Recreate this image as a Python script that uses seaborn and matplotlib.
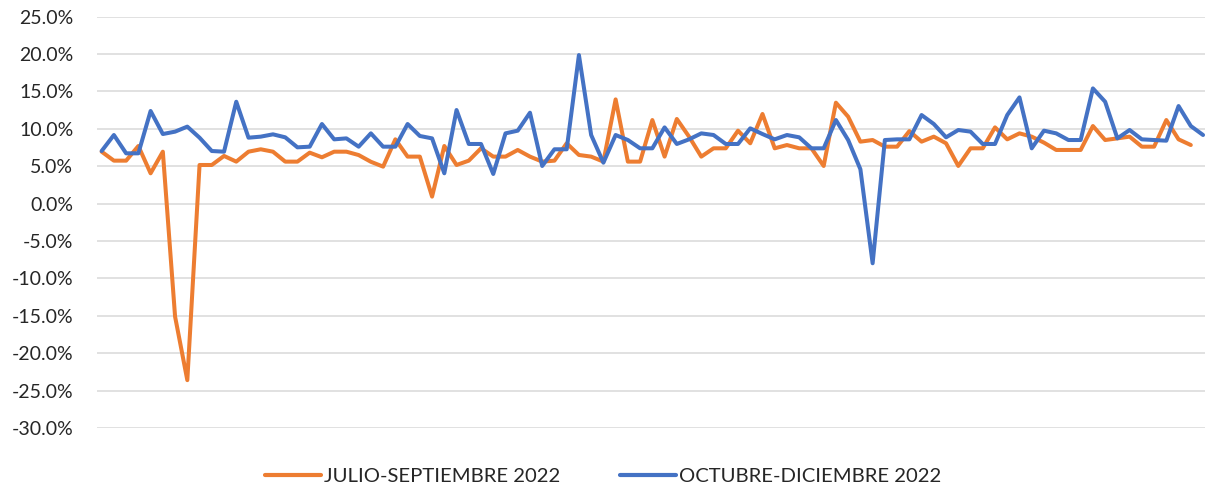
import numpy as np
import pandas as pd
import matplotlib
matplotlib.use("Agg")
import matplotlib.pyplot as plt
from matplotlib.ticker import PercentFormatter
from matplotlib.lines import Line2D
import seaborn as sns

# ---- data (percent) ----
series_names = ["JULIO-SEPTIEMBRE 2022", "OCTUBRE-DICIEMBRE 2022"]
jul_sep = [6.95, 5.75, 5.75, 7.71, 4.06, 6.95, -15.1, -23.6, 5.17, 5.17,
           6.38, 5.62, 6.95, 7.27, 6.95, 5.62, 5.62, 6.82, 6.2, 6.95,
           6.95, 6.5, 5.6, 4.95, 8.6, 6.29, 6.29, 0.94, 7.71, 5.17,
           5.75, 7.4, 6.29, 6.29, 7.18, 6.29, 5.62, 5.75, 8.07, 6.51,
           6.29, 5.62, 13.94, 5.62, 5.62, 11.18, 6.29, 11.32, 8.96, 6.29,
           7.4, 7.4, 9.76, 8.07, 11.99, 7.4, 7.84, 7.4, 7.4, 5.04,
           13.5, 11.63, 8.29, 8.51, 7.62, 7.62, 9.7, 8.29, 8.96, 8.07,
           5.04, 7.4, 7.4, 10.2, 8.6, 9.4, 8.96, 8.16, 7.18, 7.18,
           7.18, 10.38, 8.51, 8.73, 8.96, 7.62, 7.62, 11.18, 8.6, 7.84]
oct_dic = [7.04, 9.18, 6.73, 6.73, 12.39, 9.31, 9.63, 10.3, 8.82, 7.04,
           6.95, 13.63, 8.82, 8.96, 9.27, 8.87, 7.53, 7.62, 10.65, 8.6,
           8.73, 7.62, 9.4, 7.62, 7.62, 10.65, 9.05, 8.73, 4.06, 12.52,
           7.98, 7.98, 3.97, 9.4, 9.76, 12.16, 5.04, 7.27, 7.27, 19.87,
           9.18, 5.48, 9.18, 8.51, 7.4, 7.4, 10.2, 7.98, 8.6, 9.4,
           9.18, 7.98, 7.98, 10.07, 9.31, 8.6, 9.18, 8.87, 7.4, 7.4,
           11.18, 8.51, 4.6, -7.97, 8.51, 8.6, 8.6, 11.85, 10.65, 8.87,
           9.85, 9.63, 7.98, 7.98, 11.85, 14.21, 7.4, 9.76, 9.4, 8.51,
           8.51, 15.41, 13.63, 8.73, 9.85, 8.6, 8.51, 8.42, 13.05, 10.38,
           9.18]
y_ticks = list(range(-30, 26, 5))
colors = ["#ED7D31", "#4472C4"]

df = pd.concat([
    pd.DataFrame({"dia": np.arange(len(jul_sep)), "valor": jul_sep, "serie": series_names[0]}),
    pd.DataFrame({"dia": np.arange(len(oct_dic)), "valor": oct_dic, "serie": series_names[1]}),
], ignore_index=True)

sns.set_style("white")
plt.rcParams["font.family"] = ["Lato", "DejaVu Sans"]
plt.rcParams["axes.unicode_minus"] = False

fig = plt.figure(figsize=(12.10, 4.88), dpi=100)
ax = fig.add_axes([97 / 1210, 1 - 428 / 488, (1205 - 97) / 1210, (428 - 16.7) / 488])

sns.lineplot(data=df, x="dia", y="valor", hue="serie", hue_order=series_names,
             palette=colors, linewidth=2.9, sort=False, ax=ax, legend=False)

ax.set_ylim(-30, 25)
ax.set_xlim(-0.38, len(oct_dic) - 1 + 0.16)
ax.set_yticks(y_ticks)
ax.yaxis.set_major_formatter(PercentFormatter(xmax=100, decimals=1))
ax.set_xticks([])
ax.set_xlabel("")
ax.set_ylabel("")
ax.grid(axis="y", color="#D9D9D9", linewidth=1.1)
ax.set_axisbelow(True)
for s in ax.spines.values():
    s.set_visible(False)
ax.tick_params(axis="y", length=0, pad=17, labelsize=14, labelcolor="#262626")

handles = [Line2D([], [], color=c, linewidth=3.0, solid_capstyle="round") for c in colors]
fig.legend(handles, series_names, loc="center left", bbox_to_anchor=(265 / 1210, 1 - 476 / 488),
           ncol=2, frameon=False, borderpad=0, borderaxespad=0, handlelength=2.75,
           handletextpad=0.15, columnspacing=2.95,
           prop={"family": ["Lato", "DejaVu Sans"], "size": 14.6})
for t in fig.legends[0].get_texts():
    t.set_color("#262626")

fig.savefig("out.png", dpi=100)
